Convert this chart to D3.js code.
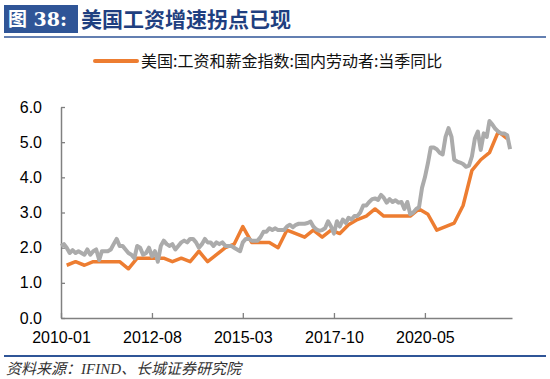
<!DOCTYPE html>
<html>
<head>
<meta charset="utf-8">
<script src="https://cdn.jsdelivr.net/npm/d3@7"></script>
<style>
  body { margin: 0; background: #fff; }
  svg { display: block; }
</style>
</head>
<body>
<script>
// 美国:工资和薪金指数:国内劳动者:当季同比 (quarterly, starting 2010-03)
var eciStart = "2010-03";
var eciValues = [1.5, 1.6, 1.5, 1.6,
                 1.6, 1.6, 1.6, 1.4,
                 1.7, 1.7, 1.7, 1.7,
                 1.6, 1.7, 1.6, 1.9,
                 1.6, 1.8, 2.0, 2.1,
                 2.6, 2.15, 2.15, 2.15,
                 2.0, 2.5, 2.4, 2.3,
                 2.5, 2.3, 2.5, 2.4,
                 2.65, 2.8, 2.9, 3.1,
                 2.9, 2.9, 2.9, 2.9,
                 3.1, 2.95, 2.5, 2.6,
                 2.7, 3.2, 4.2, 4.5,
                 4.7, 5.3, 5.1];

// grey series (monthly, starting 2010-01), no legend entry
var wageStart = "2010-01";
var wageValues = [2.05, 2.1, 2.0, 1.85, 1.93, 1.85, 1.9, 1.85, 1.8, 1.95, 1.8, 1.9,
                  1.95, 1.65, 1.9, 1.9, 1.9, 1.95, 2.1, 2.25, 2.05, 2.05, 1.95, 1.85,
                  1.8, 1.7, 2.05, 2.0, 1.8, 1.85, 2.0, 1.75, 1.9, 1.6, 2.05, 2.2,
                  2.1, 2.05, 2.1, 1.95, 2.05, 2.15, 2.2, 2.15, 2.25, 2.25, 2.15, 2.0,
                  2.1, 2.25, 2.15, 2.15, 2.05, 2.15, 2.1, 2.15, 2.05, 2.05, 2.05, 2.0,
                  1.95, 1.9, 2.15, 2.25, 2.25, 2.2, 2.2, 2.2, 2.3, 2.45, 2.45, 2.55,
                  2.5, 2.55, 2.5, 2.5, 2.5, 2.6, 2.65, 2.58, 2.65, 2.68, 2.68, 2.68,
                  2.7, 2.74, 2.6, 2.52, 2.48, 2.5, 2.55, 2.75, 2.6, 2.4, 2.75, 2.6,
                  2.8, 2.7, 2.85, 2.8, 2.9, 2.9, 3.0, 3.2, 3.2, 3.3, 3.38, 3.4,
                  3.36, 3.5, 3.42, 3.28, 3.38, 3.3, 3.35, 3.28, 3.3, 3.1, 3.3, 2.95,
                  3.0, 3.1, 3.15, 3.7, 4.0, 4.4, 4.85, 4.85, 4.8, 4.7, 4.65, 5.15,
                  5.4, 5.15, 4.5, 4.45, 4.42, 4.38, 4.3, 4.33, 4.6, 5.1, 5.3, 4.78,
                  5.25, 5.15, 5.6, 5.5, 5.38, 5.3, 5.25, 5.25, 5.2, 4.8];

var xTickLabels = ["2010-01", "2012-08", "2015-03", "2017-10", "2020-05"];
var yTicks = [0, 1, 2, 3, 4, 5, 6];

var titleTag = "图 38:";
var titleText = "美国工资增速拐点已现";
var legendText = "美国:工资和薪金指数:国内劳动者:当季同比";
var sourceText = "资料来源：IFIND、长城证券研究院";

var parseMonth = d3.timeParse("%Y-%m");
var fmtMonth = d3.timeFormat("%Y-%m");

var eci = eciValues.map(function (v, i) {
  return {date: d3.timeMonth.offset(parseMonth(eciStart), i * 3), value: v};
});
var wage = wageValues.map(function (v, i) {
  return {date: d3.timeMonth.offset(parseMonth(wageStart), i), value: v};
});

var width = 550, height = 379;
var blue = "#2f5597";

var svg = d3.select("body").append("svg")
    .attr("width", width)
    .attr("height", height);

// title
svg.append("rect")
    .attr("x", 4).attr("y", 5)
    .attr("width", 74).attr("height", 28)
    .attr("fill", blue);
svg.append("text")
    .attr("x", 8).attr("y", 26)
    .attr("fill", "#fff")
    .attr("font-family", "'DejaVu Serif', 'Liberation Serif', 'Noto Sans CJK SC', serif")
    .attr("font-weight", "bold")
    .attr("font-size", 19)
    .text(titleTag);
svg.append("text")
    .attr("x", 81).attr("y", 27)
    .attr("fill", "#1f3f80")
    .attr("font-family", "'Noto Sans CJK SC', sans-serif")
    .attr("font-weight", "bold")
    .attr("font-size", 21)
    .text(titleText);
svg.append("line")
    .attr("x1", 4).attr("x2", 546)
    .attr("y1", 37).attr("y2", 37)
    .attr("stroke", blue).attr("stroke-width", 1.5);

// legend
svg.append("line")
    .attr("x1", 95).attr("x2", 137)
    .attr("y1", 61).attr("y2", 61)
    .attr("stroke", "#ed7d31").attr("stroke-width", 4)
    .attr("stroke-linecap", "round");
svg.append("text")
    .attr("x", 141).attr("y", 67)
    .attr("fill", "#111")
    .attr("font-family", "'Noto Sans CJK SC', sans-serif")
    .attr("font-size", 16)
    .text(legendText);

// scales
var x = d3.scaleTime()
    .domain([parseMonth("2010-01"), new Date(2022, 9, 21)])
    .range([61, 512]);

var y = d3.scaleLinear()
    .domain([0, 6])
    .range([318, 107]);

var axisColor = "#808080";
var numFont = "'Liberation Sans', Arial, sans-serif";

var yAxis = svg.append("g")
    .attr("transform", "translate(61,0)")
    .call(d3.axisLeft(y).tickValues(yTicks).tickFormat(d3.format(".1f"))
      .tickSizeInner(-4).tickSizeOuter(0).tickPadding(19));

var xAxis = svg.append("g")
    .attr("transform", "translate(0,318)")
    .call(d3.axisBottom(x).tickValues(xTickLabels.map(parseMonth)).tickFormat(fmtMonth)
      .tickSizeInner(-5).tickSizeOuter(0).tickPadding(14));

[yAxis, xAxis].forEach(function (g) {
  g.select(".domain").attr("stroke", axisColor).attr("stroke-width", 1.5);
  g.selectAll(".tick line").attr("stroke", axisColor).attr("stroke-width", 1.3);
  g.selectAll(".tick text")
    .attr("fill", "#000")
    .attr("font-family", numFont)
    .attr("font-size", 16);
});

// lines
var line = d3.line()
    .x(function (d) { return x(d.date); })
    .y(function (d) { return y(d.value); });

svg.append("path")
    .datum(eci)
    .attr("fill", "none")
    .attr("stroke", "#ed7d31")
    .attr("stroke-width", 3.5)
    .attr("stroke-linejoin", "round")
    .attr("d", line);

svg.append("path")
    .datum(wage)
    .attr("fill", "none")
    .attr("stroke", "#ababab")
    .attr("stroke-width", 4)
    .attr("stroke-linejoin", "round")
    .attr("d", line);

// footer
svg.append("line")
    .attr("x1", 4).attr("x2", 546)
    .attr("y1", 356).attr("y2", 356)
    .attr("stroke", blue).attr("stroke-width", 2);
svg.append("text")
    .attr("x", 6).attr("y", 374)
    .attr("fill", "#333")
    .attr("font-family", "'Liberation Serif', 'Noto Sans CJK SC', serif")
    .attr("font-style", "italic")
    .attr("font-size", 15)
    .text(sourceText);
</script>
</body>
</html>
